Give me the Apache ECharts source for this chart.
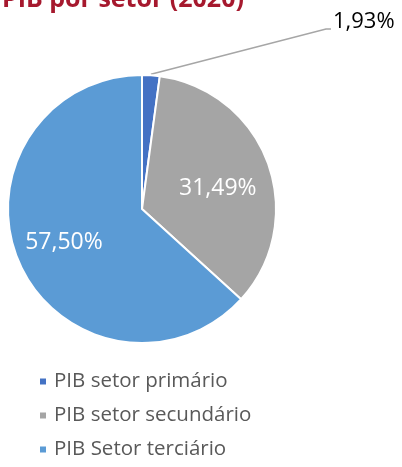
<!DOCTYPE html>
<html>
<head>
<meta charset="utf-8">
<script src="https://cdn.jsdelivr.net/npm/echarts@6/dist/echarts.min.js"></script>
<style>
  html, body { margin: 0; padding: 0; background: #fff; }
  #chart { width: 402px; height: 467px; }
</style>
</head>
<body>
<div id="chart"></div>
<script>
// PIB por setor (2020), valores em %
const categories = ['PIB setor primário', 'PIB setor secundário', 'PIB Setor terciário'];
const values = [1.93, 31.49, 57.50];
const colors = ['#4472C4', '#A5A5A5', '#5B9BD5'];

const FONT = 'Open Sans';
const CENTER = [142, 209];
const RADIUS = 134;

const chart = echarts.init(document.getElementById('chart'));

const total = values.reduce(function (a, b) { return a + b; }, 0);

const pieData = categories.map(function (name, i) {
  const item = { name: name, value: values[i], itemStyle: { color: colors[i] } };
  if (i === 0) {
    item.label = { position: 'outside', color: '#000', fontSize: 22 };
    item.labelLine = { show: true, length: 20, length2: 5, lineStyle: { color: '#A6A6A6', width: 1.5 } };
  } else {
    item.label = { position: 'inside', color: '#fff', fontSize: 23 };
    item.labelLine = { show: false };
  }
  return item;
});

chart.setOption({
  animation: false,
  title: {
    text: 'PIB por setor (2020)',
    left: -3,
    top: -18,
    textStyle: { color: '#A6192E', fontSize: 25, fontWeight: 'bold', fontFamily: FONT }
  },
  legend: {
    orient: 'vertical',
    left: 33,
    top: 366,
    itemWidth: 8,
    itemHeight: 8,
    itemGap: 13,
    icon: 'rect',
    textStyle: { color: '#595959', fontSize: 20.5, fontFamily: FONT, padding: [0, 0, 0, 2] },
    data: categories
  },
  series: [{
    type: 'pie',
    center: CENTER,
    radius: RADIUS,
    startAngle: 90,
    clockwise: true,
    itemStyle: { borderColor: '#fff', borderWidth: 2 },
    label: {
      fontFamily: FONT,
      formatter: function (p) {
        return p.value.toFixed(2).replace('.', ',') + '%';
      }
    },
    labelLayout: function (params) {
      if (params.dataIndex === 0) {
        // leader line from the middle of the small slice's arc up to the label
        const a = values[0] / 2 / total * 2 * Math.PI;
        const sx = CENTER[0] + RADIUS * Math.sin(a);
        const sy = CENTER[1] - RADIUS * Math.cos(a);
        const lx = 333, ly = 22;
        return {
          x: lx, y: ly, align: 'left', verticalAlign: 'middle',
          labelLinePoints: [[sx, sy - 1], [lx - 7, ly + 7], [lx - 2, ly + 7]]
        };
      }
      if (params.dataIndex === 1) {
        return { dx: 10, dy: 3 };
      }
      return { dx: -14, dy: 5 };
    },
    data: pieData
  }]
});
</script>
</body>
</html>
